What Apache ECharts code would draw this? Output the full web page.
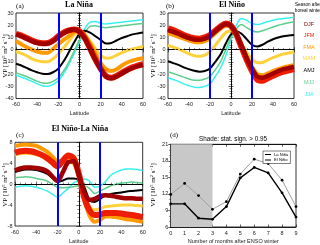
<!DOCTYPE html>
<html><head><meta charset="utf-8">
<script src="https://cdn.jsdelivr.net/npm/echarts@6/dist/echarts.min.js"></script>
<style>html,body{margin:0;padding:0;background:#fff}#c{width:320px;height:245px}</style>
</head><body><div id="c"></div>
<script>
const latitudes = [-60,-55,-50,-45,-40,-35,-30,-25,-20,-15,-10,-5,0,5,10,15,20,25,30,35,40,45,50,55,60];
const seasons = ['DJF','JFM','FMA','MAM','AMJ','MJJ','JJA'];
const seasonColors = ['#a00000','#ee1c00','#ff9a00','#ffd23c','#000000','#5ccf8c','#38f0f0'];
const seasonWidths = [4.5,6,4,3,2,1.5,1.5];

// panel (a) La Niña, rows in season order
const vpLaNina = [
  [12.5,11,9,7,5.5,4.8,5,7,10.5,13.5,15.5,16.5,14.5,9,0.5,-8.5,-16,-22,-23.5,-22,-19.5,-17,-15,-13.5,-12.5],
  [13,11.5,9.5,7.5,6,5.3,5.5,7.5,11,14,15.8,16.5,15,9.5,1,-8,-15.5,-21.5,-23,-21.5,-19,-16.5,-14.5,-13,-12],
  [7,4.5,2,0,-1.5,-2.5,-2.5,0.5,4.5,8,11,14.5,15.5,12,5,-3,-11,-16,-17.5,-16,-13,-10.5,-9,-7.8,-7],
  [-1.5,-3,-5,-7.5,-9,-10,-10,-7.5,-3.5,1.5,7,12.5,15,12.5,7,1,-4.5,-7,-6.5,-4.5,-2.5,-0.8,0.5,1.5,2.5],
  [-11.5,-13,-15,-17,-18.5,-19.8,-20,-18.5,-15.5,-9.5,-2,6,13,15.5,14,11,8,5,5.5,7.5,9.5,11,12.5,13.3,14],
  [-19,-20.5,-22,-24,-26,-27.3,-27.5,-26,-23,-17.5,-10,-1,8,14,19,19.5,18.5,18,18.5,19,19.5,20,20.5,21,21.5],
  [-21,-22.5,-24,-26,-28,-29.5,-30,-28.5,-25.5,-19.5,-12,-3,6,17,22.5,23,21.5,21,21.5,22,22.5,23,23.5,24,24.5]
];
// panel (b) El Niño
const vpElNino = [
  [16,14.5,13,11,9.5,8.3,8,9,11,15,18.5,21,19.5,13,3,-7,-15.5,-22,-23,-21.5,-19.5,-17.5,-16,-15,-14],
  [17.5,16,14,12,10.5,9.3,9,10,12,15.5,19,21.5,19.5,12.5,2,-8.5,-17.5,-24.5,-25.5,-23.5,-21.5,-19.5,-18,-17,-16],
  [13.5,12,10.5,9,7.5,6.3,6,7,9.5,13.5,17,19.5,18.5,13,4,-6,-14,-20,-21,-19.5,-17.5,-16,-14.5,-13.5,-12.5],
  [3.5,2,0.5,-1.5,-3.5,-5,-5.5,-4.5,-1.5,3.5,9,14,15.5,12,5,-2.5,-8,-10.8,-10.5,-8.5,-6.5,-5,-3.5,-2.7,-2],
  [-9.5,-11,-12.5,-14.5,-16,-17.3,-18,-17.5,-15.5,-10,-4,5,12.5,15,13,8.5,4,2.5,4,6.5,8.5,10,11,11.5,12],
  [-18,-19.5,-21,-22.5,-24,-25,-25,-24,-22,-16.5,-10,0,10,17,20.5,18,15.5,14.5,15.5,17,18.5,20,21,22,22.5],
  [-23,-24.5,-26,-28,-29.5,-30.7,-31,-30,-28,-22,-15,-5,8,20,25.5,24,21.5,20.5,21.5,23,24,25,25.5,26,26.5]
];
// panel (c) El Niño - La Niña
const vpDiff = [
  [2.6,3,3.2,3.2,3.1,2.9,2.5,1.5,0.6,2.3,4.2,4.4,1.8,-1.5,-3,-2.8,-2.3,-2.1,-2.2,-2.4,-2.6,-2.7,-2.7,-2.8,-2.8],
  [6,6.3,6.4,6.3,6,5.6,5,4.2,3.4,4.5,5.5,5,2,-2.5,-5,-5.9,-5.8,-5.5,-5.5,-5.5,-5.6,-5.8,-5.9,-6.1,-6.3],
  [7.3,7.5,7.6,7.5,7.3,6.8,6.2,5.3,4.4,4.6,5.2,4.5,1.5,-3,-6,-7.2,-6.8,-6.2,-6.2,-6.3,-6.5,-6.7,-6.8,-7,-7.2],
  [5.6,5.8,5.9,5.8,5.6,5.3,4.8,4.3,4,4.2,4.5,3.8,1.2,-2,-4.3,-4.9,-4.7,-4.3,-4.2,-4.1,-4,-4,-4,-4.1,-4.2],
  [2.3,2.6,2.8,2.8,2.7,2.4,2,1.2,0.4,0.7,1.1,1.1,0.8,-0.5,-3,-3.4,-2.8,-2.2,-1.9,-1.7,-1.6,-1.4,-1.3,-1.2,-1.1],
  [1.2,1.3,1.4,1.3,1.1,0.9,0.6,0,-0.6,-0.7,-0.6,-0.5,-0.3,-0.3,-0.8,-1.8,-1.3,-0.8,-0.3,0,0.2,0.3,0.4,0.3,0.2],
  [-0.6,-0.4,-0.3,-0.4,-0.6,-0.9,-1.3,-1.9,-2.5,-1.7,-0.8,0.2,0.7,1,0.6,-0.6,-0.4,0.5,1.7,2.3,2.7,2.9,2.9,2.8,2.6]
];
// panel (d)
const months = [0,1,2,3,4,5,6,7,8,9];
const dLaNina = [10.2,10.2,7.6,7.4,9.7,14.9,16.8,15.8,12.2,7.8];
const dElNino = [11.9,13.9,11.7,9.2,10.6,15.6,18.3,17.5,14.5,9.7];

const SANS = 'Liberation Sans, Arial, sans-serif';
const SERIF = 'Liberation Serif, Times New Roman, serif';

const grids = [
  {left:16, top:13, width:127, height:85.5},
  {left:168, top:13, width:126, height:85.5},
  {left:15, top:142.3, width:127.7, height:85.4},
  {left:170.7, top:144.3, width:125.3, height:85}
];
grids.forEach(g=>{g.show=true; g.borderColor='#000'; g.borderWidth=0.8; g.backgroundColor='transparent';});

const xr = [[-60,60,20],[-60,60,20],[-60,60,20],[0,9,1]];
const yr = [[-40,30,10],[-40,30,10],[-8,8,4],[6,21,3]];
const xNames = ['Latitude','Latitude','Latitude','Number of months after ENSO winter'];

const xAxes = [], yAxes = [];
for (let i=0;i<4;i++){
  xAxes.push({type:'value', gridIndex:i, min:xr[i][0], max:xr[i][1], interval:xr[i][2],
    name:xNames[i], nameLocation:'middle', nameGap:i===3?11:12,
    nameTextStyle:{fontFamily:SANS, fontSize:5.5, color:'#222'},
    axisLine:{show:true, lineStyle:{color:'#000', width:0.8}},
    axisTick:{show:true, inside:true, length:2.5, lineStyle:{color:'#000', width:0.6}},
    minorTick:{show:true, splitNumber:i===3?1:4, length:1.5, lineStyle:{color:'#000', width:0.5}},
    axisLabel:{fontFamily:SANS, fontSize:5.5, color:'#222', margin:3},
    splitLine:{show:false}});
}
for (let i=0;i<4;i++){
  xAxes.push({type:'value', gridIndex:i, position:'top', min:xr[i][0], max:xr[i][1], interval:xr[i][2],
    axisLine:{show:true, lineStyle:{color:'#000', width:0.8}},
    axisTick:{show:true, inside:true, length:2.5, lineStyle:{color:'#000', width:0.6}},
    axisLabel:{show:false}, splitLine:{show:false}});
}
for (let i=0;i<4;i++){
  yAxes.push({type:'value', gridIndex:i, min:yr[i][0], max:yr[i][1], interval:yr[i][2],
    axisLine:{show:true, lineStyle:{color:'#000', width:0.8}},
    axisTick:{show:true, inside:true, length:2.5, lineStyle:{color:'#000', width:0.6}},
    minorTick:{show:true, splitNumber:i===3?3:5, length:1.5, lineStyle:{color:'#000', width:0.5}},
    axisLabel:{fontFamily:SANS, fontSize:5.5, color:'#222', margin:2.5},
    splitLine:{show:false}});
}
for (let i=0;i<4;i++){
  yAxes.push({type:'value', gridIndex:i, position:'right', min:yr[i][0], max:yr[i][1], interval:yr[i][2],
    axisLine:{show:true, lineStyle:{color:'#000', width:0.8}},
    axisTick:{show:true, inside:true, length:2.5, lineStyle:{color:'#000', width:0.6}},
    minorTick:{show:true, splitNumber:i===3?3:5, length:1.5, lineStyle:{color:'#000', width:0.5}},
    axisLabel:{show:false}, splitLine:{show:false}});
}

const series = [];
function addPanel(rows, gi){
  for (let k=seasons.length-1;k>=0;k--){
    series.push({type:'line', name:seasons[k], xAxisIndex:gi, yAxisIndex:gi,
      data: latitudes.map((la,j)=>[la, rows[k][j]]), smooth:0.3, showSymbol:false,
      lineStyle:{color:seasonColors[k], width:seasonWidths[k]}, itemStyle:{color:seasonColors[k]}, z:2});
  }
  series.push({type:'line', xAxisIndex:gi, yAxisIndex:gi, data:[], z:5,
    markLine:{silent:true, symbol:'none', label:{show:false}, animation:false,
      data:[
        {yAxis:0, lineStyle:{color:'#000', width:0.8, type:[2,2]}},
        {xAxis:-20, lineStyle:{color:'#0000ff', width:2, type:'solid'}},
        {xAxis:20, lineStyle:{color:'#0000ff', width:2, type:'solid'}}
      ]}});
}
addPanel(vpLaNina,0);
addPanel(vpElNino,1);
addPanel(vpDiff,2);

series.push({type:'line', name:'El Niño', xAxisIndex:3, yAxisIndex:3,
  data: months.map((m,j)=>[m,dElNino[j]]), symbol:'circle', symbolSize:2.8,
  lineStyle:{color:'#a0a0a0', width:1}, itemStyle:{color:'#000'},
  markArea:{silent:true, itemStyle:{color:'#c8c8c8'}, data:[[{xAxis:0},{xAxis:3}]]}, z:3});
series.push({type:'line', name:'La Niña', xAxisIndex:3, yAxisIndex:3,
  data: months.map((m,j)=>[m,dLaNina[j]]), symbol:'circle', symbolSize:2.8,
  lineStyle:{color:'#000', width:1.4}, itemStyle:{color:'#000'}, z:4});

const legendY = [24,35.5,47,58.5,70.5,82.5,94];
const graphic = [];
function txt(x,y,text,opt){
  graphic.push({type:'text', x:x, y:y, silent:true,
    style:Object.assign({text:text, fill:'#000', align:'center', verticalAlign:'middle', fontFamily:SANS, fontSize:6}, opt||{})});
}
txt(20,6,'(a)',{fontFamily:SERIF, fontSize:7});
txt(79,5,'La Niña',{fontFamily:SERIF, fontSize:8, fontWeight:'bold'});
txt(170,6,'(b)',{fontFamily:SERIF, fontSize:7});
txt(232,5,'El Niño',{fontFamily:SERIF, fontSize:8, fontWeight:'bold'});
txt(308,5,'Season after',{fontSize:4.6});
txt(308,10.5,'boreal winter',{fontSize:4.6});
seasons.forEach((s,i)=>txt(309,legendY[i],s,{fontSize:5.5, fill:seasonColors[i]}));
txt(20,135,'(c)',{fontFamily:SERIF, fontSize:7});
txt(80,128.5,'El Niño-La Niña',{fontFamily:SERIF, fontSize:8, fontWeight:'bold'});
txt(174,135,'(d)',{fontFamily:SERIF, fontSize:7});
txt(233,139,'Shade: stat. sign. > 0.95',{fontSize:6.3});

const vpRich = {s:{fontFamily:SERIF, fontSize:4.6, verticalAlign:'top', padding:[0,0,3,0]}, n:{fontFamily:SERIF, fontSize:7}};
const vpText = '{n|VP [10}{s|5}{n| m}{s|2}{n| s}{s|−1}{n|]}';
[[5,56],[153.5,56],[5,185],[153.5,185]].forEach(p=>{
  graphic.push({type:'text', x:p[0], y:p[1], rotation:Math.PI/2, silent:true,
    style:{text:vpText, rich:vpRich, fill:'#000', align:'center', verticalAlign:'middle'}});
});

const chart = echarts.init(document.getElementById('c'), null, {renderer:'canvas'});
chart.setOption({
  animation:false,
  grid:grids, xAxis:xAxes, yAxis:yAxes, series:series, graphic:graphic,
  legend:[{data:['La Niña','El Niño'], left:263, top:151, orient:'vertical', icon:'rect',
    itemWidth:6, itemHeight:1, itemGap:1.5, padding:[1.5,2,1.5,2], borderColor:'#000', borderWidth:0.5,
    backgroundColor:'#fff', selectedMode:false,
    textStyle:{fontFamily:SANS, fontSize:4.2, color:'#000', padding:[0,0,0,-2]}}]
});
</script></body></html>
